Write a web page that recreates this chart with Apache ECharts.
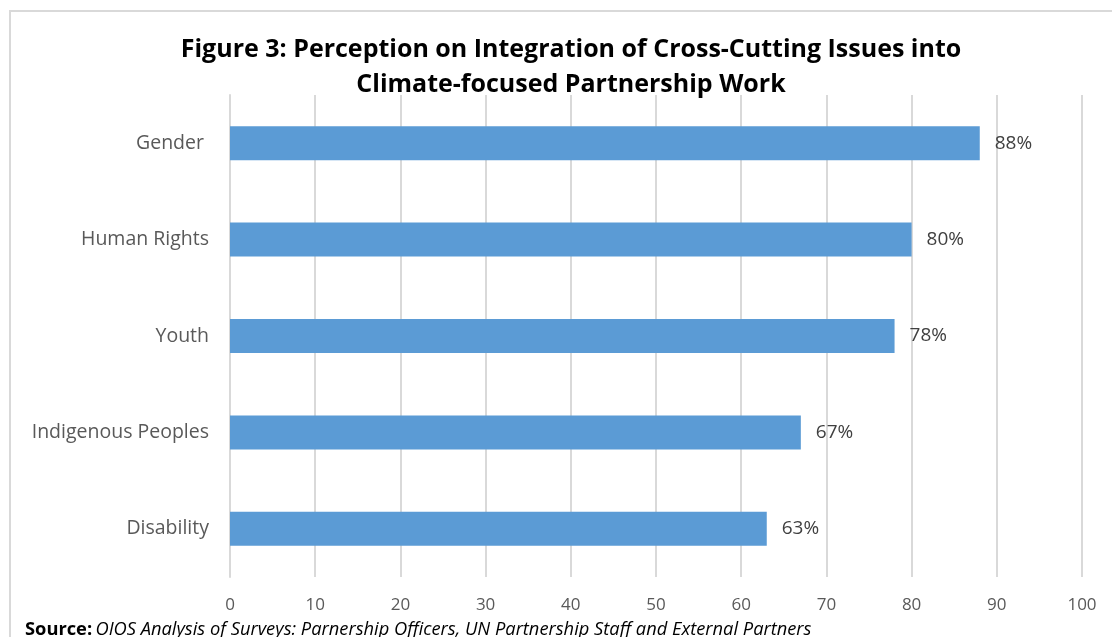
<!DOCTYPE html>
<html><head><meta charset="utf-8">
<script src="https://cdn.jsdelivr.net/npm/echarts@6/dist/echarts.min.js"></script>
<style>html,body{margin:0;padding:0;background:#fff}#c{width:1112px;height:637px}</style>
</head><body><div id="c"></div>
<script>
const categories = ["Gender ", "Human Rights", "Youth", "Indigenous Peoples", "Disability"];
const values = [88, 80, 78, 67, 63];
const xTicks = [0, 10, 20, 30, 40, 50, 60, 70, 80, 90, 100];
const titleText = "Figure 3: Perception on Integration of Cross-Cutting Issues into\nClimate-focused Partnership Work";

const chart = echarts.init(document.getElementById('c'), null, {renderer: 'canvas'});
chart.setOption({
  animation: false,
  backgroundColor: '#fff',
  title: {
    text: titleText,
    left: 566, top: 27, textAlign: 'center',
    textStyle: {fontFamily: 'Open Sans', fontWeight: 'bold', fontSize: 25, color: '#000', lineHeight: 35}
  },
  grid: {left: 230, right: 30, top: 95, bottom: 60, containLabel: false},
  xAxis: {
    type: 'value', min: xTicks[0], max: xTicks[xTicks.length - 1], interval: 10,
    axisLine: {show: false}, axisTick: {show: false},
    splitLine: {lineStyle: {color: '#d9d9d9', width: 2}},
    axisLabel: {color: '#595959', fontSize: 17, fontFamily: 'Open Sans', margin: 20}
  },
  yAxis: {
    type: 'category', data: categories, inverse: true,
    axisLine: {show: true, lineStyle: {color: '#d9d9d9', width: 2}},
    axisTick: {show: false},
    axisLabel: {color: '#595959', fontSize: 19.5, fontFamily: 'Open Sans', margin: 21}
  },
  series: [{
    type: 'bar', data: values, barWidth: 34,
    itemStyle: {color: '#5B9BD5'},
    label: {show: true, position: 'right', distance: 15, formatter: '{c}%',
      color: '#404040', fontSize: 19, fontFamily: 'Open Sans'}
  }],
  graphic: [
    {type: 'polyline', shape: {points: [[10, 637], [10, 11], [1112, 11]]},
     style: {stroke: '#d9d9d9', lineWidth: 2, fill: null}},
    {type: 'text', left: 25, top: 621,
     style: {rich: {b: {fontWeight: 'bold', fontStyle: 'normal', fontSize: 18.3, fontFamily: 'Open Sans', fill: '#000'},
                    i: {fontStyle: 'italic', fontSize: 18.3, fontFamily: 'Open Sans', fill: '#000'}},
             text: '{b|Source:} {i|OIOS Analysis of Surveys: Parnership Officers, UN Partnership Staff and External Partners}'}}
  ]
});
</script></body></html>
